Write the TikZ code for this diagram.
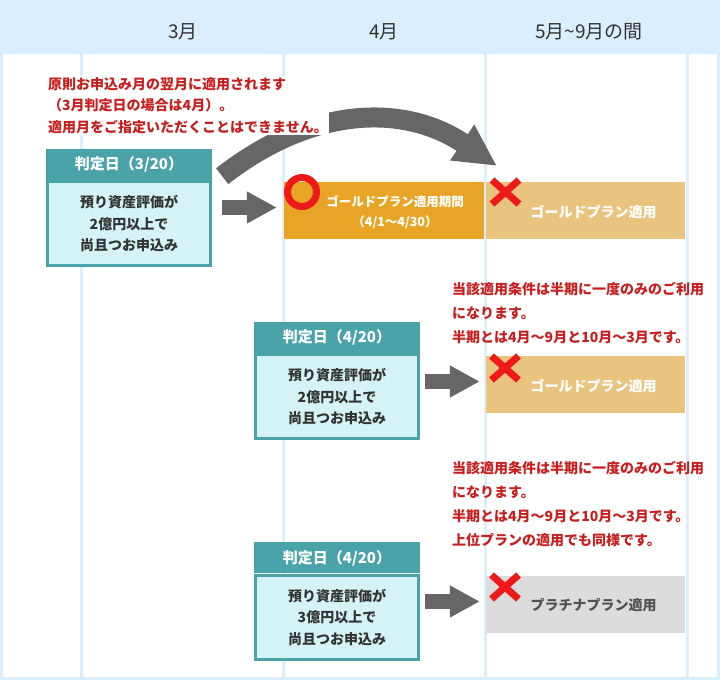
\documentclass[tikz,border=0pt]{standalone}
\usepackage{fontspec}
\setmainfont{Noto Sans CJK JP}
\usepackage{xcolor}
\usepackage{tikz}
\usetikzlibrary{arrows.meta, positioning, shapes.misc, calc}
\definecolor{bgblue}{RGB}{219,238,253}
\definecolor{headteal}{RGB}{74,163,168}
\definecolor{bodycyan}{RGB}{213,243,245}
\definecolor{notered}{RGB}{200,30,30}
\definecolor{markred}{RGB}{238,26,26}
\definecolor{arrowgray}{RGB}{102,102,102}
\definecolor{gold}{RGB}{232,164,36}
\definecolor{palegold}{RGB}{232,196,126}
\definecolor{platgray}{RGB}{220,220,220}
\definecolor{textgray}{RGB}{51,51,51}
\tikzset{
    month/.style={text=textgray, font=\fontsize{19}{22}\selectfont},
    dayhead/.style={rectangle, fill=headteal, text=white, minimum width=166pt, minimum height=31pt, inner sep=0pt, font=\fontsize{15}{17}\selectfont\bfseries},
    daybody/.style={rectangle, draw=headteal, line width=3pt, fill=bodycyan, text=textgray, minimum width=163pt, minimum height=84pt, inner sep=0pt, align=center, font=\fontsize{14}{21.5}\selectfont\bfseries},
    plan/.style={rectangle, minimum width=200pt, minimum height=57pt, inner sep=0pt},
    plantext/.style={text=white, align=center, font=\fontsize{14}{20}\selectfont\bfseries},
    note/.style={text=notered, inner sep=1pt, align=left, anchor=north west, font=\fontsize{14}{24}\selectfont\bfseries},
    okmark/.style={circle, draw=markred, line width=7pt, minimum size=29pt, inner sep=0pt},
    ngmark/.style={cross out, draw=markred, line width=7pt, minimum width=27pt, minimum height=24pt, inner sep=0pt, outer sep=0pt},
    bigarrow/.style={-{Triangle[length=30pt,width=30pt]}, line width=15pt, arrowgray},
    curvearrow/.style={-{Triangle[length=42pt,width=40pt]}, line width=20pt, arrowgray}
}

\begin{document}
\begin{tikzpicture}[x=1pt, y=1pt]
    % Background and month columns
    \fill[bgblue] (0,0) rectangle (720,680);
    \foreach \xa/\xb in {3/80, 83/282, 285/484, 487/686, 689/717}
        \fill[white] (\xa,3) rectangle (\xb,626);

    % Month headings
    \node[month] (m3) at (183,648) {3月};
    \node[month] (m4) at (384,648) {4月};
    \node[month] (m59) at (589,648) {5月\textasciitilde 9月の間};

    % Judgement boxes
    \node[dayhead] (hd1) at (129,515.5) {判定日（3/20）};
    \node[daybody, below=0pt of hd1] (bd1) {預り資産評価が\\2億円以上で\\尚且つお申込み};
    \node[dayhead] (hd2) at (337,342.5) {判定日（4/20）};
    \node[daybody, below=0pt of hd2] (bd2) {預り資産評価が\\2億円以上で\\尚且つお申込み};
    \node[dayhead] (hd3) at (337,122) {判定日（4/20）};
    \node[daybody, below=0pt of hd3] (bd3) {預り資産評価が\\3億円以上で\\尚且つお申込み};

    % Plan bars
    \node[plan, fill=gold] (bar1) at (384,469.5) {};
    \node[plan, fill=palegold, minimum width=199pt] (bar2) at (585.5,469.5) {};
    \node[plan, fill=palegold, minimum width=199pt] (bar3) at (585.5,295.5) {};
    \node[plan, fill=platgray, minimum width=199pt] (bar4) at (585.5,75.5) {};
    \node[plantext, font=\fontsize{12.5}{20}\selectfont\bfseries] (t1) at ([xshift=11pt,yshift=-1.5pt]bar1.center) {ゴールドプラン適用期間\\（4/1〜4/30）};
    \node[plantext] (t2) at ([xshift=8pt,yshift=-1.5pt]bar2.center) {ゴールドプラン適用};
    \node[plantext] (t3) at ([xshift=8pt,yshift=-1.5pt]bar3.center) {ゴールドプラン適用};
    \node[plantext, text=textgray!85] (t4) at ([xshift=8pt,yshift=-0.5pt]bar4.center) {プラチナプラン適用};

    % Marks
    \node[okmark] (ok1) at (302,488) {};
    \node[ngmark] (ng1) at (505.5,488) {};
    \node[ngmark] (ng2) at (505,312) {};
    \node[ngmark] (ng3) at (505,93) {};

    % Arrows
    \draw[bigarrow, shorten <=10pt, shorten >=7pt] ($(bd1.east |- bar1.west)+(0,3)$) -- ($(bar1.west)+(0,3)$);
    \draw[bigarrow, shorten <=5pt, shorten >=6pt] ($(bd2.east |- bar3.west)+(0,3)$) -- ($(bar3.west)+(0,3)$);
    \draw[bigarrow, shorten <=5pt, shorten >=6pt] ($(bd3.east |- bar4.west)+(0,3)$) -- ($(bar4.west)+(0,3)$);
    \draw[curvearrow] ([shift={(10pt,4pt)}]hd1.south east) to[out=38, in=146, looseness=1.05] ([shift={(-8.5pt,14pt)}]ng1.north);

    % Notes
    \node[note, fill=white, font=\fontsize{14}{21.5}\selectfont\bfseries] (n1) at (47,604) {原則お申込み月の翌月に適用されます\\（3月判定日の場合は4月）。\\適用月をご指定いただくことはできません。};
    \node[note] (n2) at (451,399) {当該適用条件は半期に一度のみのご利用\\になります。\\半期とは4月〜9月と10月〜3月です。};
    \node[note] (n3) at (451,220) {当該適用条件は半期に一度のみのご利用\\になります。\\半期とは4月〜9月と10月〜3月です。\\上位プランの適用でも同様です。};
\end{tikzpicture}
\end{document}
